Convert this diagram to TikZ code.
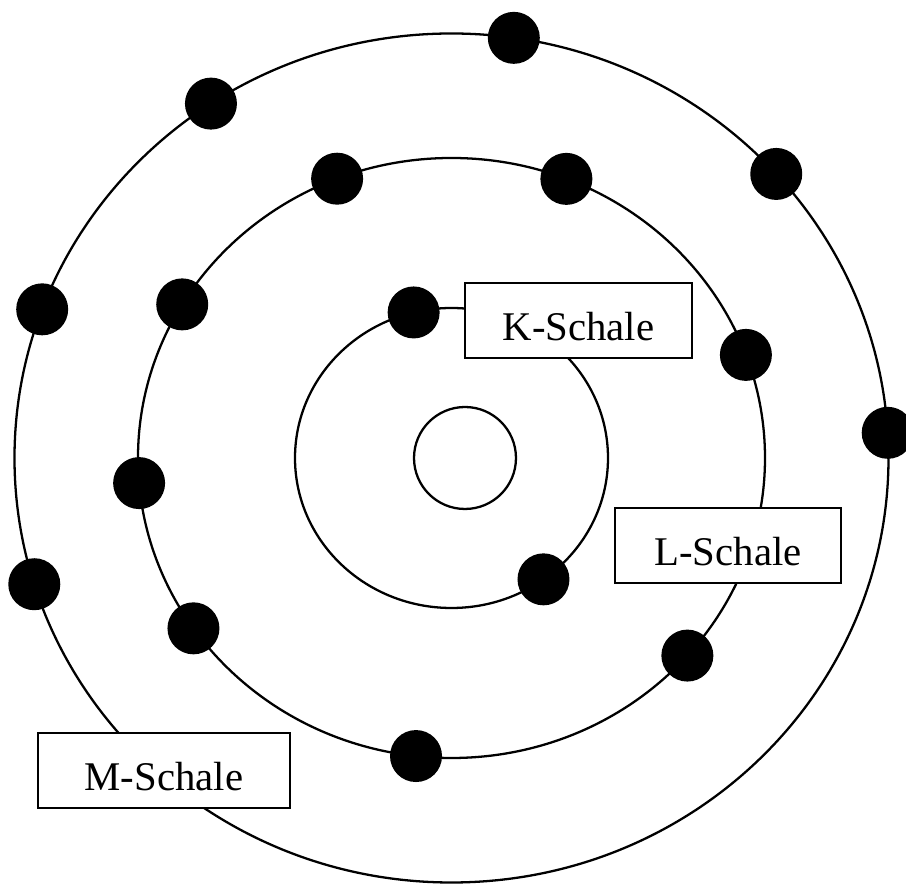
\documentclass[tikz,border=0pt]{standalone}
\usepackage{fontspec}
\setmainfont{Liberation Serif}

\begin{document}
\begin{tikzpicture}[
    x=0.02cm, y=0.02cm,
    shell/.style={line width=1.3pt},
    electron/.style={circle, fill=black, inner sep=0pt, minimum size=1.04cm},
    shellbox/.style={draw, fill=white, line width=1.6pt, minimum height=1.5cm,
                     inner sep=0pt, text height=0.81cm, text depth=0pt,
                     font=\fontsize{23.2}{28}\selectfont},
]
\useasboundingbox (-451.5,-426) rectangle (454.5,458);
\coordinate (c) at (0,0);
% shells
\draw[shell] (c) ellipse [x radius=156.5, y radius=150];
\draw[shell] (c) ellipse [x radius=313.5, y radius=300];
\draw[shell] (c) ellipse [x radius=437, y radius=424.5];
% nucleus
\node[circle, draw, line width=1.3pt, minimum size=2.04cm, inner sep=0pt] (kern) at (13.5,0) {};
% electrons
\foreach \a [count=\i] in {104,-54}
    \node[electron] (k\i) at (\a:156.5 and 150) {};
\foreach \a [count=\i] in {111.4,68.5,149.2,20.1,184.8,214.6,-41.2,263.5}
    \node[electron] (l\i) at (\a:313.5 and 300) {};
\foreach \a [count=\i] in {81.8,123.4,42,159.5,3.4,197.3}
    \node[electron] (m\i) at (\a:437 and 424.5) {};
% labels
\node[shellbox, minimum width=4.54cm] (kbox) at (127,137.5) {K-Schale};
\node[shellbox, minimum width=4.52cm] (lbox) at (276.5,-87.5) {L-Schale};
\node[shellbox, minimum width=5.04cm] (mbox) at (-287.5,-312.5) {M-Schale};
\end{tikzpicture}
\end{document}
